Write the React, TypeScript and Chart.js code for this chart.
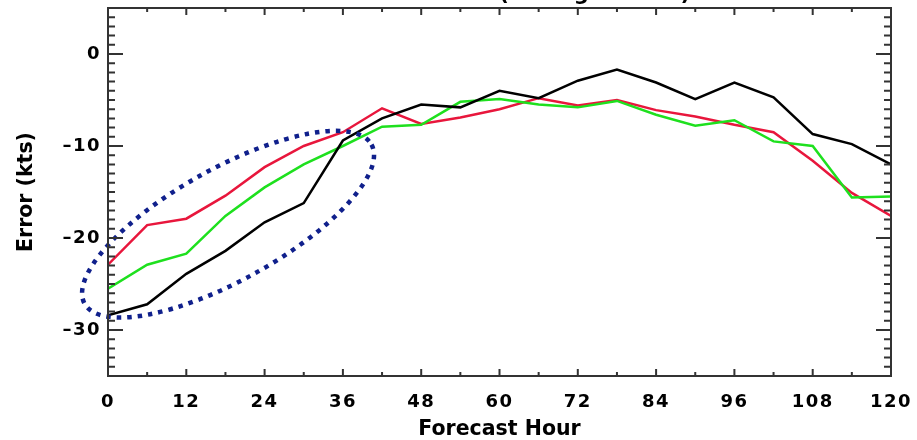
import React, { useEffect, useRef } from 'react';
import { Chart, registerables } from 'chart.js';

Chart.register(...registerables);

// ---- data ----
const forecastHours = [0, 6, 12, 18, 24, 30, 36, 42, 48, 54, 60, 66, 72, 78, 84, 90, 96, 102, 108, 114, 120];
const blackErr = [-28.4, -27.2, -23.9, -21.4, -18.3, -16.2, -9.4, -7.0, -5.5, -5.8, -4.0, -4.8, -2.9, -1.7, -3.1, -4.9, -3.1, -4.7, -8.7, -9.8, -12.0];
const greenErr = [-25.5, -22.9, -21.7, -17.6, -14.5, -12.0, -10.0, -7.9, -7.7, -5.2, -4.9, -5.5, -5.8, -5.1, -6.6, -7.8, -7.2, -9.5, -10.0, -15.6, -15.5];
const redErr = [-22.9, -18.6, -17.9, -15.4, -12.3, -10.0, -8.5, -5.9, -7.6, -6.9, -6.0, -4.8, -5.6, -5.0, -6.1, -6.8, -7.7, -8.5, -11.6, -15.1, -17.6];
const xTickValues = [0, 12, 24, 36, 48, 60, 72, 84, 96, 108, 120];
const yTickValues = [0, -10, -20, -30];

const titleText = 'Mean Error (Strong Storms)';
const xTitle = 'Forecast Hour';
const yTitle = 'Error (kts)';

// annotation ellipse (center in data units)
const ellipseCenterHour = 18.4;
const ellipseCenterErr = -18.5;

const FONT = '"DejaVu Sans", "Liberation Sans", sans-serif';
const AXIS_COLOR = '#333333';

const zeroPadding = (scale: any) => {
  scale.paddingTop = 0;
  scale.paddingBottom = 0;
  scale.paddingLeft = 0;
  scale.paddingRight = 0;
};

const decorPlugin = {
  id: 'decor',
  beforeDraw(chart: any) {
    (chart.ctx as any).letterSpacing = '1.5px';
  },
  afterDatasetsDraw(chart: any) {
    const ctx = chart.ctx;
    const xs = chart.scales.x;
    const ys = chart.scales.y;
    const cx = xs.getPixelForValue(ellipseCenterHour);
    const cy = ys.getPixelForValue(ellipseCenterErr);
    ctx.save();
    ctx.beginPath();
    ctx.ellipse(cx, cy, 164, 56, (-29 * Math.PI) / 180, 0, Math.PI * 2);
    ctx.setLineDash([4.5, 6]);
    ctx.lineWidth = 4.5;
    ctx.strokeStyle = '#10208c';
    ctx.stroke();
    ctx.restore();
  },
  afterDraw(chart: any) {
    const ctx = chart.ctx;
    const xs = chart.scales.x;
    const ys = chart.scales.y;
    const { left, right, top, bottom } = chart.chartArea;
    ctx.save();
    (ctx as any).letterSpacing = '0px';
    ctx.strokeStyle = AXIS_COLOR;
    ctx.lineWidth = 2;
    ctx.setLineDash([]);
    ctx.strokeRect(left, top, right - left, bottom - top);
    ctx.beginPath();
    for (let h = 0; h <= 120; h += 6) {
      const x = xs.getPixelForValue(h);
      const len = h % 12 === 0 ? 7 : 4;
      ctx.moveTo(x, bottom);
      ctx.lineTo(x, bottom - len);
      ctx.moveTo(x, top);
      ctx.lineTo(x, top + len);
    }
    for (let v = -35; v <= 5; v += 1) {
      const y = ys.getPixelForValue(v);
      const len = v % 10 === 0 ? 15 : 7;
      ctx.moveTo(left, y);
      ctx.lineTo(left + len, y);
      ctx.moveTo(right, y);
      ctx.lineTo(right - len, y);
    }
    ctx.stroke();

    // titles
    ctx.fillStyle = '#000000';
    ctx.font = `bold 20.5px ${FONT}`;
    ctx.textAlign = 'center';
    ctx.textBaseline = 'alphabetic';
    ctx.fillText(xTitle, (left + right) / 2, 435);

    ctx.save();
    ctx.translate(31.5, (top + bottom) / 2);
    ctx.rotate(-Math.PI / 2);
    ctx.fillText(yTitle, 0, 0);
    ctx.restore();

    ctx.textAlign = 'right';
    ctx.font = `bold 21px ${FONT}`;
    ctx.fillText(titleText, 690, 0);
    ctx.restore();
  },
};

export default function App() {
  const canvasRef = useRef<HTMLCanvasElement | null>(null);

  useEffect(() => {
    document.body.style.margin = '0';
    const canvas = canvasRef.current;
    if (!canvas) return;
    const tickFont = { family: FONT, size: 18, weight: 'bold' as const };
    const chart = new Chart(canvas, {
      type: 'line',
      data: {
        datasets: [
          {
            label: 'Black',
            data: forecastHours.map((h, i) => ({ x: h, y: blackErr[i] })),
            borderColor: '#000000',
            borderWidth: 2.5,
            pointRadius: 0,
            tension: 0,
          },
          {
            label: 'Green',
            data: forecastHours.map((h, i) => ({ x: h, y: greenErr[i] })),
            borderColor: '#1ee01e',
            borderWidth: 2.5,
            pointRadius: 0,
            tension: 0,
          },
          {
            label: 'Red',
            data: forecastHours.map((h, i) => ({ x: h, y: redErr[i] })),
            borderColor: '#e8163c',
            borderWidth: 2.5,
            pointRadius: 0,
            tension: 0,
          },
        ],
      },
      options: {
        responsive: false,
        animation: false,
        events: [],
        layout: { padding: { top: 8, right: 26, left: 0, bottom: 0 } },
        plugins: {
          legend: { display: false },
          title: { display: false },
          tooltip: { enabled: false },
        },
        scales: {
          x: {
            type: 'linear',
            min: 0,
            max: 120,
            grid: { display: false, drawTicks: false },
            border: { display: false },
            afterBuildTicks: (scale: any) => {
              scale.ticks = xTickValues.map((v) => ({ value: v }));
            },
            afterFit: (scale: any) => {
              scale.height = 64;
              zeroPadding(scale);
            },
            ticks: {
              autoSkip: false,
              maxRotation: 0,
              padding: 16,
              color: '#000000',
              font: tickFont,
              callback: (v: any) => String(v),
            },
          },
          y: {
            type: 'linear',
            min: -35,
            max: 5,
            grid: { display: false, drawTicks: false },
            border: { display: false },
            afterBuildTicks: (scale: any) => {
              scale.ticks = yTickValues.map((v) => ({ value: v }));
            },
            afterFit: (scale: any) => {
              scale.width = 108;
              zeroPadding(scale);
            },
            ticks: {
              autoSkip: false,
              padding: 7,
              color: '#000000',
              font: tickFont,
              callback: (v: any) => String(v).replace('-', '\u2013'),
            },
          },
        },
      },
      plugins: [decorPlugin],
    });
    return () => chart.destroy();
  }, []);

  return (
    <div style={{ width: 917, height: 440 }}>
      <canvas ref={canvasRef} width={917} height={440} style={{ display: 'block' }} />
    </div>
  );
}
